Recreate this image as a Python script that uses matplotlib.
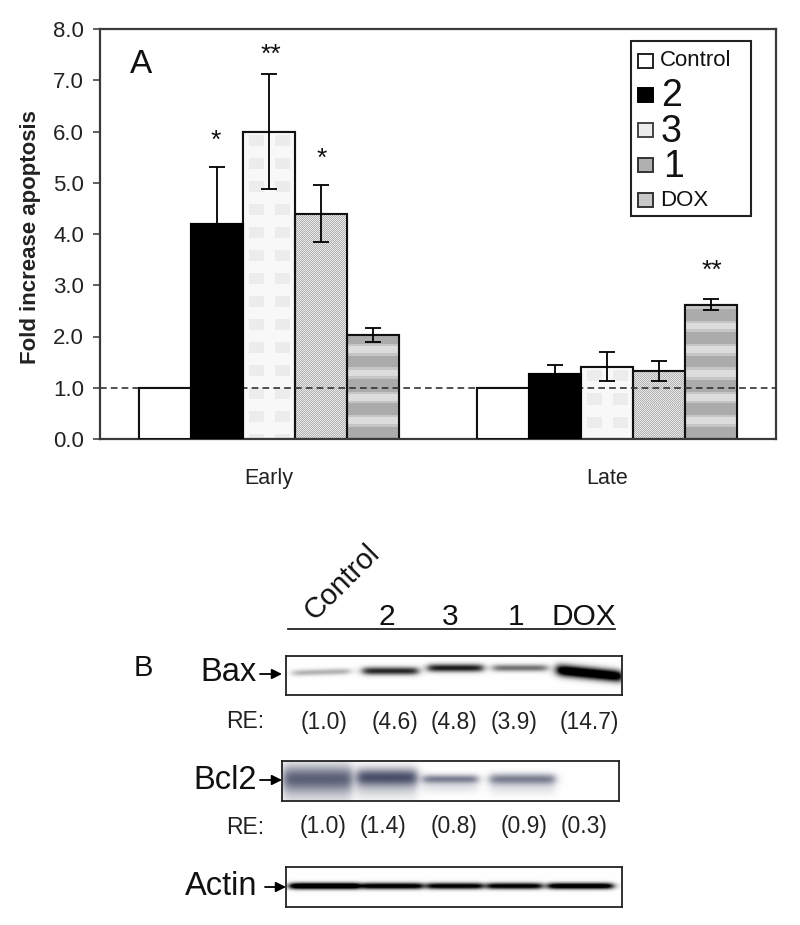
import numpy as np
import matplotlib
matplotlib.use("Agg")
import matplotlib.pyplot as plt
from matplotlib.patches import Rectangle

plt.rcParams['font.family'] = ['Liberation Sans', 'DejaVu Sans']

# ---- data ----
periods = ["Early", "Late"]
series = ["Control", "2", "3", "1", "DOX"]
early_vals = [1.0, 4.2, 6.0, 4.4, 2.03]
late_vals = [1.0, 1.27, 1.41, 1.33, 2.62]
early_err = [0.0, 1.1, 1.13, 0.56, 0.14]
late_err = [0.0, 0.18, 0.28, 0.19, 0.11]
yticks = [0, 1, 2, 3, 4, 5, 6, 7, 8]
early_sig = ["", "*", "**", "*", ""]
late_sig = ["", "", "", "", "**"]
lanes = ["Control", "2", "3", "1", "DOX"]
bax_re = ["(1.0)", "(4.6)", "(4.8)", "(3.9)", "(14.7)"]
bcl2_re = ["(1.0)", "(1.4)", "(0.8)", "(0.9)", "(0.3)"]
bax_dark = [0.3, 0.85, 0.9, 0.55, 1.35]
bcl2_dark = [0.85, 0.95, 0.7, 0.7, 0.0]
actin_dark = [1.4, 1.15, 1.1, 1.1, 1.2]

W, H = 800, 925
fig = plt.figure(figsize=(W / 100, H / 100), dpi=100, facecolor='white')

def axes_px(x0, y0, x1, y1, **kw):
    return fig.add_axes([x0 / W, 1 - y1 / H, (x1 - x0) / W, (y1 - y0) / H], **kw)

# ---- textures, one per series ----
def tex_plaid(h, w):
    a = np.full((h, w), 0.97)
    yy, xx = np.mgrid[0:h, 0:w]
    patch = (((yy % 23) > 3) & ((yy % 23) < 15) & (((xx % 26) > 5) & ((xx % 26) < 21)))
    a[patch] = 0.925
    return a

def tex_dots(h, w):
    yy, xx = np.mgrid[0:h, 0:w]
    return np.where((xx + yy) % 2 == 0, 0.9, 0.7)

def tex_stripes(h, w):
    yy = np.arange(h)[::-1].reshape(-1, 1)
    phase = (yy % 23.4) / 23.4
    a = np.where(phase < 0.5, 0.67, 0.86)
    a = np.where((phase > 0.5) & (phase < 0.62), 0.77, a)
    a = np.where((phase > 0.9), 0.77, a)
    return np.repeat(a, w, axis=1)

TEX = {"3": tex_plaid, "1": tex_dots, "DOX": tex_stripes}

# ---- panel A ----
ax = axes_px(100, 29, 776, 439)
n = len(series)
bw = 52 / 338
for g, vals, errs in ((0, early_vals, early_err), (1, late_vals, late_err)):
    for i, (name, v, e) in enumerate(zip(series, vals, errs)):
        xc = g + (i - (n - 1) / 2) * bw
        bar = ax.bar(xc, v, bw, color='black' if name == "2" else 'white',
                     edgecolor='#111111', linewidth=1.5, zorder=2)[0]
        if name in TEX:
            h = max(2, int(round(v * 410 / 8)))
            im = ax.imshow(TEX[name](h, 52), cmap='gray', vmin=0, vmax=1, aspect='auto',
                           interpolation='nearest', zorder=2.1,
                           extent=(xc - bw / 2, xc + bw / 2, 0, v))
            im.set_clip_path(bar)
            ax.add_patch(Rectangle((xc - bw / 2, 0), bw, v, fill=False,
                                   edgecolor='#111111', lw=1.5, zorder=2.2))
        if e > 0:
            ax.errorbar(xc, v, yerr=e, color='black', lw=1.3, capsize=6,
                        capthick=1.3, zorder=3.2 if name == "2" else 4)
ax.axhline(1.0, color='#333333', lw=1.2, ls=(0, (4, 2.5)), zorder=3)
# bars drawn in white or black hide the reference line
for g, vals in ((0, early_vals), (1, late_vals)):
    for i in (0, 1):
        xc = g + (i - (n - 1) / 2) * bw
        ax.add_patch(Rectangle((xc - bw / 2, 0), bw, vals[i],
                               facecolor='black' if i else 'white',
                               edgecolor='black' if i else '#111111', lw=1.5, zorder=3.5))
ax.set_xlim(-0.5, 1.5)
ax.set_ylim(0, 8)
ax.set_yticks(yticks)
ax.set_yticklabels([f"{t:.1f}" for t in yticks], fontsize=16, color='#222222')
ax.set_xticks([0, 1])
ax.set_xticklabels(periods, fontsize=15.5, color='#222222')
ax.tick_params(axis='x', length=0, pad=21)
ax.tick_params(axis='y', length=5, width=1.2, color='#444444', pad=6.5)
for s in ax.spines.values():
    s.set_linewidth(1.6)
    s.set_color('#3a3a3a')
ax.set_ylabel("Fold increase apoptosis", fontsize=16, fontweight='bold', color='#222222')
ax.yaxis.set_label_coords((41 - 100) / 676, 0.493)

# ---- overlay in pixel coordinates ----
ov = fig.add_axes([0, 0, 1, 1], zorder=5)
ov.set_xlim(0, W)
ov.set_ylim(H, 0)
ov.axis('off')
ov.patch.set_alpha(0)

ov.text(130, 73, "A", fontsize=24, color='#111111', va='baseline')
for x, y, s in ((216, 141, early_sig[1]), (271, 55, early_sig[2]),
                (322, 159, early_sig[3]), (712, 271, late_sig[4])):
    ov.text(x, y, s, fontsize=19, ha='center', va='center', color='#111111')

# legend
ov.add_patch(Rectangle((631, 41), 120, 175, fc='white', ec='#222222', lw=1.5, zorder=6))
leg_y = [61, 95, 130, 165, 200]
leg_dy = [0, 1, 2, 2, 0]
leg_fs = [16, 27, 27, 27, 16]
leg_fc = ['white', 'black', '#ececec', '#b0b0b0', '#c8c8c8']
leg_ec = ['#222222', 'black', '#444444', '#333333', '#333333']
leg_x = [660, 661, 661, 663, 660]
for name, y, dy, fs, fc, ec, x in zip(series, leg_y, leg_dy, leg_fs, leg_fc, leg_ec, leg_x):
    ov.add_patch(Rectangle((638, y - 7), 15, 14, fc=fc, ec=ec, lw=1.4, zorder=7))
    ov.text(x, y + dy, name, fontsize=fs, va='center', ha='left', color='#111111', zorder=7)

# ---- panel B: blots ----
def render_blot(x0, y0, x1, y1, bands, bluish=False):
    blot = axes_px(x0, y0, x1, y1)
    w, h = int(x1 - x0), int(y1 - y0)
    yy, xx = np.mgrid[0:h, 0:w]
    xx = xx + x0 + 0.5
    yy = yy + y0 + 0.5
    dark = np.zeros((h, w))
    for (a, b, yc, sy, slope, d) in bands:
        if d <= 0:
            continue
        ends = 0.5 * (np.tanh((xx - a) / 5.0) - np.tanh((xx - b) / 5.0))
        centre = yc + slope * np.clip(xx - a, 0, None)
        dark += d * ends * np.exp(-((yy - centre) / sy) ** 2)
        if bluish:
            dark += 0.22 * d * ends * np.exp(-((yy - centre - sy - 3) / (sy + 2)) ** 2)
    dark = np.clip(dark, 0, 1)
    rgb = np.dstack([1 - dark * (0.70 if bluish else 1.0),
                     1 - dark * (0.68 if bluish else 1.0),
                     1 - dark * (0.58 if bluish else 1.0)])
    blot.imshow(rgb, aspect='auto', interpolation='bilinear')
    blot.set_xticks([])
    blot.set_yticks([])
    for s in blot.spines.values():
        s.set_linewidth(1.3)
        s.set_color('#222222')
    return blot

bax_x = [(293, 350), (363, 418), (428, 483), (493, 547), (557, 622)]
bax_yc = [673, 671, 668, 668, 670]
bax_sy = [3.2, 4.0, 4.0, 3.6, 5.8]
bax_sl = [-0.03, 0, 0, 0, 0.1]
render_blot(286, 656, 622, 695,
            [(a, b, y, s, sl, d) for (a, b), y, s, sl, d in
             zip(bax_x, bax_yc, bax_sy, bax_sl, bax_dark)])

bcl_x = [(283, 352), (357, 417), (423, 478), (490, 555), (560, 615)]
bcl_yc = [778, 777, 779, 779, 779]
bcl_sy = [13, 9, 4.5, 5.5, 3]
render_blot(282, 761, 619, 801,
            [(a, b, y, s, 0, d) for (a, b), y, s, d in
             zip(bcl_x, bcl_yc, bcl_sy, bcl2_dark)], bluish=True)

act_x = [(290, 360), (362, 423), (427, 483), (487, 542), (548, 613)]
render_blot(286, 867, 622, 907,
            [(a, b, 886, 3.2, 0, d) for (a, b), d in zip(act_x, actin_dark)])

ov2 = fig.add_axes([0, 0, 1, 1], zorder=6)
ov2.set_xlim(0, W)
ov2.set_ylim(H, 0)
ov2.axis('off')
ov2.patch.set_alpha(0)

tc = '#111111'
ov2.text(342, 582, lanes[0], fontsize=21, rotation=45, ha='center', va='center',
         rotation_mode='anchor', color=tc)
for name, x in zip(lanes[1:], [387, 450, 516, 584]):
    ov2.text(x, 625, name, fontsize=21.5, ha='center', va='baseline', color=tc)
ov2.plot([288, 615], [629, 629], color='#222222', lw=1.3)
ov2.text(134, 676, "B", fontsize=21, va='baseline', color=tc)

for label, base, ay, a0, a1 in (("Bax", 681, 674, 260, 282), ("Bcl2", 789, 780, 260, 282),
                                ("Actin", 895, 887, 265, 286)):
    ov2.text(257, base, label, fontsize=23.5, ha='right', va='baseline', color=tc)
    ov2.annotate("", xy=(a1, ay), xytext=(a0, ay),
                 arrowprops=dict(arrowstyle='-|>', color='black', lw=1.3,
                                 mutation_scale=15, shrinkA=0, shrinkB=0))

ov2.text(226, 722, "RE:", fontsize=16.5, va='center', color='#222222')
ov2.text(226, 827, "RE:", fontsize=16.5, va='center', color='#222222')
for s, x in zip(bax_re, [324, 395, 454, 514, 589]):
    ov2.text(x, 722, s, fontsize=16.5, ha='center', va='center', color='#222222')
for s, x in zip(bcl2_re, [323, 383, 454, 524, 584]):
    ov2.text(x, 827, s, fontsize=16.5, ha='center', va='center', color='#222222')

fig.savefig("out.png", dpi=100, facecolor='white')
